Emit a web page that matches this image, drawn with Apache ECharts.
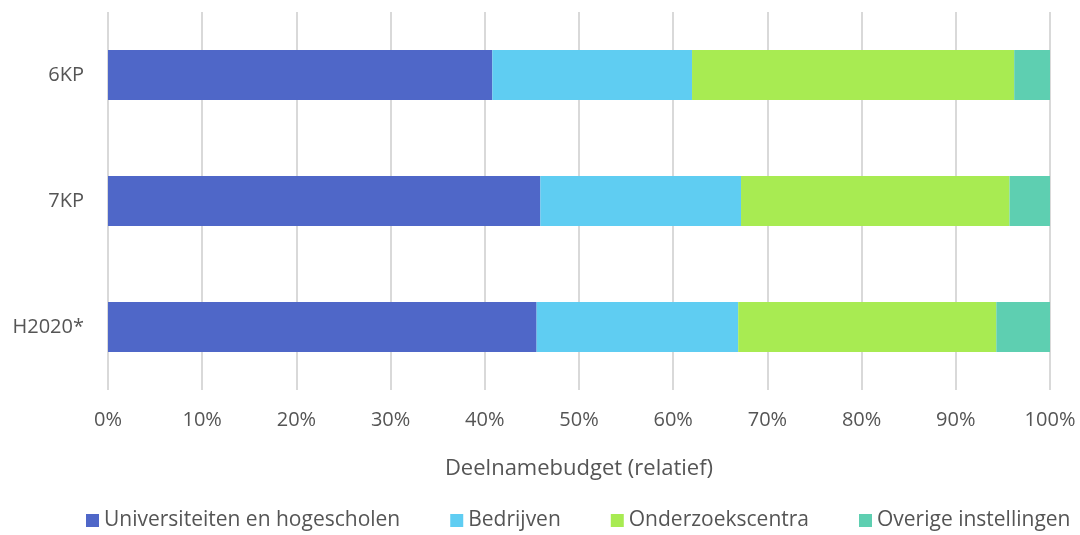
<!DOCTYPE html>
<html>
<head>
<meta charset="utf-8">
<script src="https://cdn.jsdelivr.net/npm/echarts@6/dist/echarts.min.js"></script>
<style>
  html, body { margin: 0; padding: 0; background: #fff; }
  #chart { width: 1080px; height: 535px; }
</style>
</head>
<body>
<div id="chart"></div>
<script>
  // programmes, top to bottom
  const categories = ['6KP', '7KP', 'H2020*']
  const seriesNames = ['Universiteiten en hogescholen', 'Bedrijven', 'Onderzoekscentra', 'Overige instellingen']
  // relative share (%)
  const universiteiten = [40.8, 45.9, 45.5]
  const bedrijven = [21.2, 21.3, 21.4]
  const onderzoekscentra = [34.2, 28.5, 27.4]
  const overige = [3.8, 4.3, 5.7]
  const colors = ['#4f67c8', '#5fcdf2', '#a8eb52', '#5ecfb1']

  const chart = echarts.init(document.getElementById('chart'))
  const font = '"Open Sans", sans-serif'
  const values = [universiteiten, bedrijven, onderzoekscentra, overige]

  chart.setOption({
    animation: false,
    textStyle: { fontFamily: font },
    grid: { left: 108, right: 30, top: 12, bottom: 145 },
    legend: {
      top: 510,
      left: 86,
      padding: 0,
      itemWidth: 13,
      itemHeight: 13,
      itemGap: 50,
      icon: 'rect',
      textStyle: { fontSize: 21, color: '#555', fontFamily: font },
      data: seriesNames
    },
    xAxis: {
      type: 'value',
      min: 0,
      max: 100,
      interval: 10,
      name: 'Deelnamebudget (relatief)',
      nameLocation: 'middle',
      nameGap: 68,
      nameTextStyle: { fontSize: 22, color: '#555', fontFamily: font },
      axisLine: { show: false },
      axisTick: { show: false },
      axisLabel: { formatter: '{value}%', fontSize: 20, color: '#555', margin: 20 },
      splitLine: { lineStyle: { color: '#d9d9d9', width: 2 } }
    },
    yAxis: {
      type: 'category',
      inverse: true,
      data: categories,
      axisLine: { show: false },
      axisTick: { show: false },
      axisLabel: { fontSize: 20, color: '#555', margin: 24 }
    },
    series: seriesNames.map((name, i) => ({
      name: name,
      type: 'bar',
      stack: 'total',
      barWidth: 50,
      itemStyle: { color: colors[i] },
      data: values[i]
    }))
  })
</script>
</body>
</html>
